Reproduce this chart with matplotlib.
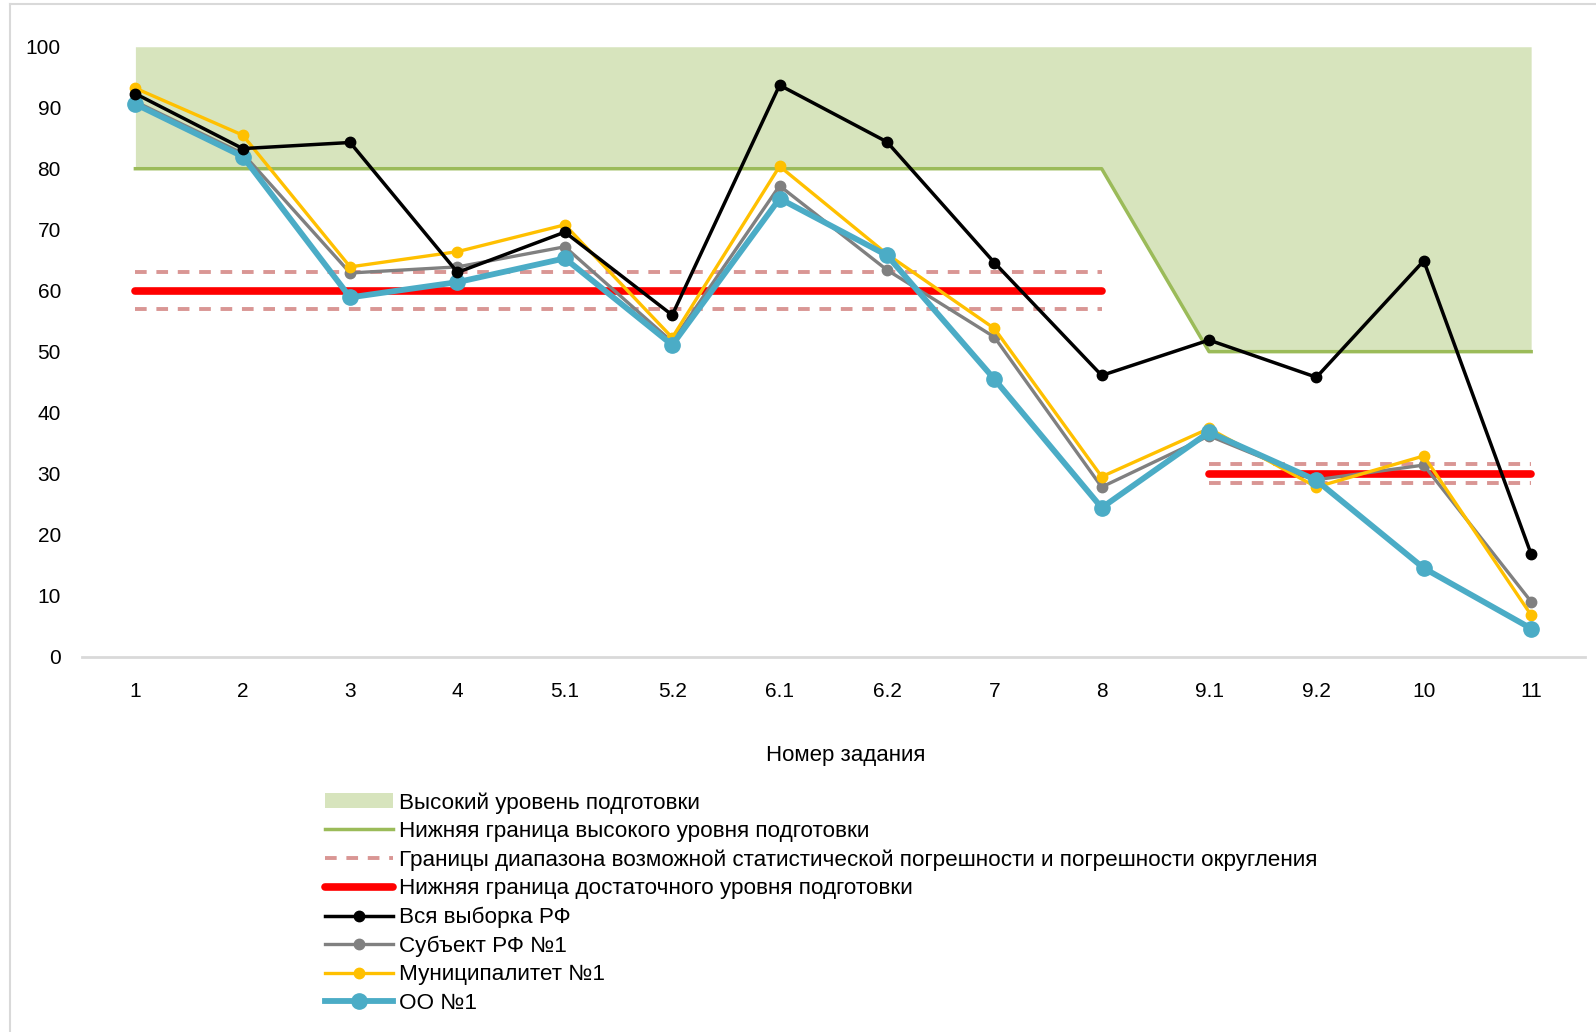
import matplotlib
matplotlib.use("Agg")
import matplotlib.pyplot as plt
from matplotlib.lines import Line2D
from matplotlib.patches import Patch
import numpy as np

tasks = ["1", "2", "3", "4", "5.1", "5.2", "6.1", "6.2", "7", "8", "9.1", "9.2", "10", "11"]

rf_all = [92.3, 83.3, 84.3, 63.0, 69.6, 56.0, 93.7, 84.4, 64.6, 46.1, 51.9, 45.8, 64.9, 16.8]
subject = [91.0, 82.5, 62.9, 63.9, 67.2, 51.6, 77.2, 63.4, 52.4, 27.8, 36.2, 29.0, 31.4, 9.0]
munic = [93.2, 85.5, 63.9, 66.4, 70.8, 52.3, 80.4, 66.0, 53.8, 29.5, 37.4, 27.8, 32.9, 6.8]
school = [90.6, 82.0, 58.9, 61.4, 65.3, 51.1, 75.1, 65.8, 45.5, 24.4, 36.8, 28.9, 14.5, 4.6]

high_lower = [80, 80, 80, 80, 80, 80, 80, 80, 80, 80, 50, 50, 50, 50]
high_upper = [100] * 14
suff_lower = [60, 60, 60, 60, 60, 60, 60, 60, 60, 60, 30, 30, 30, 30]
err_half = [3, 3, 3, 3, 3, 3, 3, 3, 3, 3, 1.5, 1.5, 1.5, 1.5]

labels = ["Высокий уровень подготовки",
          "Нижняя граница высокого уровня подготовки",
          "Границы диапазона возможной статистической погрешности и погрешности округления",
          "Нижняя граница достаточного уровня подготовки",
          "Вся выборка РФ",
          "Субъект РФ №1",
          "Муниципалитет №1",
          "ОО №1"]

plt.rcParams['font.family'] = ['Liberation Sans', 'DejaVu Sans']

x = np.arange(1, len(tasks) + 1)
suff = np.array(suff_lower, dtype=float)
err = np.array(err_half, dtype=float)
split = 10  # first part: tasks 1..8, second: 9.1..11

fig = plt.figure(figsize=(15.96, 10.32), dpi=100)
ax = fig.add_axes([0.0512, 0.3638, 0.9418, 0.5909])

ax.fill_between(x, high_lower, high_upper, color="#D7E4BD", lw=0, zorder=1)
ax.plot(x, high_lower, color="#9BBB59", lw=2.5, zorder=2)

for sl in (slice(0, split), slice(split, None)):
    ax.plot(x[sl], suff[sl] + err[sl], color="#D99694", lw=2.8, ls=(0, (3, 2.5)), zorder=3)
    ax.plot(x[sl], suff[sl] - err[sl], color="#D99694", lw=2.8, ls=(0, (3, 2.5)), zorder=3)
    ax.plot(x[sl], suff[sl], color="#FF0000", lw=5.5, solid_capstyle="round", zorder=3)

ax.plot(x, rf_all, color="black", lw=2.5, marker="o", ms=7.5, zorder=6)
ax.plot(x, subject, color="#808080", lw=2.4, marker="o", ms=7.5, zorder=4)
ax.plot(x, munic, color="#FFC000", lw=2.4, marker="o", ms=7.5, zorder=5)
ax.plot(x, school, color="#4BACC6", lw=4.2, marker="o", ms=11, zorder=5)

ax.set_xlim(0.5, len(tasks) + 0.5)
ax.set_ylim(0, 100)
ax.set_yticks(np.arange(0, 101, 10))
ax.set_xticks(x)
ax.set_xticklabels(tasks)
ax.tick_params(length=0, labelsize=15, colors="black")
ax.tick_params(axis="y", pad=15)
ax.tick_params(axis="x", pad=18)
for s in ("top", "right", "left"):
    ax.spines[s].set_visible(False)
ax.spines["bottom"].set_color("#D9D9D9")
ax.spines["bottom"].set_linewidth(2)
ax.set_xlabel("Номер задания", fontsize=16)
ax.xaxis.set_label_coords(0.508, -0.145)

handles = [
    Patch(facecolor="#D7E4BD", edgecolor="none"),
    Line2D([], [], color="#9BBB59", lw=2.5),
    Line2D([], [], color="#D99694", lw=2.8, ls=(0, (3, 2.5))),
    Line2D([], [], color="#FF0000", lw=5.5, solid_capstyle="round"),
    Line2D([], [], color="black", lw=2.5, marker="o", ms=7.5),
    Line2D([], [], color="#808080", lw=2.4, marker="o", ms=7.5),
    Line2D([], [], color="#FFC000", lw=2.4, marker="o", ms=7.5),
    Line2D([], [], color="#4BACC6", lw=4.2, marker="o", ms=11),
]
fig.legend(handles, labels, loc="upper left", bbox_to_anchor=(0.2037, 0.2325),
           frameon=False, fontsize=16.2, handlelength=3.0, handletextpad=0.3,
           labelspacing=0.33, borderpad=0, borderaxespad=0, handleheight=0.6)

# outer frame of the chart area
fig.add_artist(Line2D([0.006, 1.0], [0.996, 0.996], color="#D9D9D9", lw=1.5))
fig.add_artist(Line2D([0.006, 0.006], [0.0, 0.996], color="#D9D9D9", lw=1.5))

fig.savefig("out.png", dpi=100)
